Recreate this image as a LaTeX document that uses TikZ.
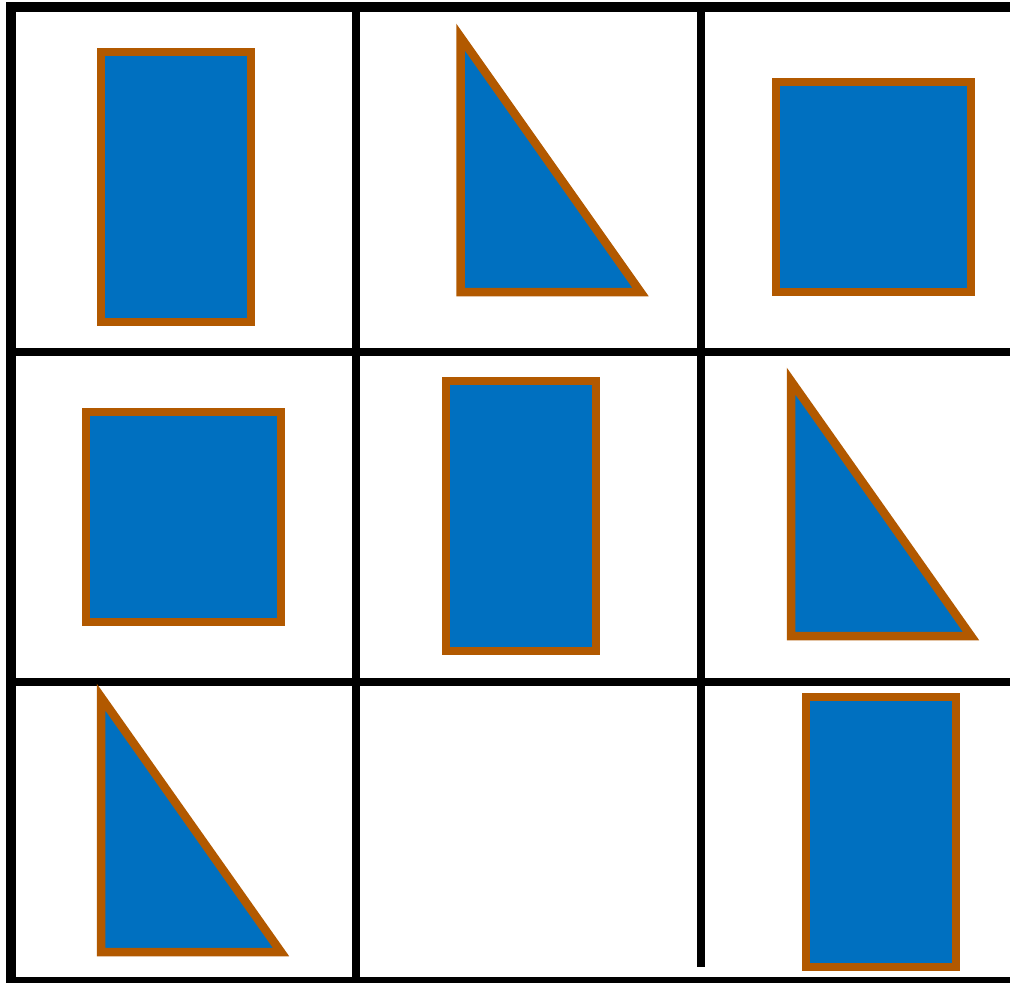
\documentclass[tikz,border=0pt]{standalone}
\definecolor{tilefill}{HTML}{0070C0}
\definecolor{tileedge}{HTML}{B25900}

\begin{document}
\begin{tikzpicture}[
  x=1pt,y=-1pt,
  frame/.style={line width=10pt},
  divider/.style={line width=8pt},
  tile/.style={draw=tileedge,fill=tilefill,line width=8.5pt}
]
  \useasboundingbox (0,0) rectangle (1010,983);
  \clip (0,0) rectangle (1010,983);

  % grid
  \draw[frame] (1010,7) -- (11,7) -- (11,981.5) -- (1010,981.5);
  \draw[divider] (356,7) -- (356,981.5);
  \draw[divider] (701,7) -- (701,966.7);
  \foreach \y in {352,682}
    \draw[divider] (11,\y) -- (1010,\y);

  % top row
  \draw[tile] (101,52) rectangle (251,322);
  \draw[tile] (460.5,37) -- (460.5,292) -- (640.5,292) -- cycle;
  \draw[tile] (776,82) rectangle (971,292);

  % middle row
  \draw[tile] (86,412) rectangle (281,622);
  \draw[tile] (446,381) rectangle (596,651);
  \draw[tile] (791,381) -- (791,636) -- (971,636) -- cycle;

  % bottom row
  \draw[tile] (101,697) -- (101,952) -- (281,952) -- cycle;
  \draw[tile] (806,697) rectangle (956,967);
\end{tikzpicture}
\end{document}
